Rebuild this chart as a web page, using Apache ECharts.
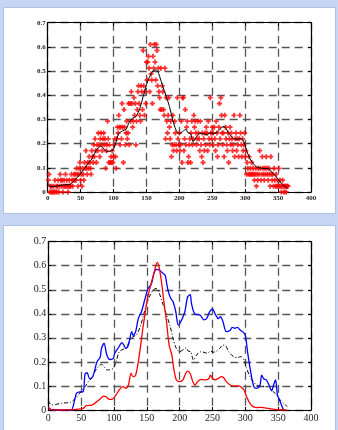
<!DOCTYPE html>
<html>
<head>
<meta charset="utf-8">
<script src="https://cdn.jsdelivr.net/npm/echarts@6/dist/echarts.min.js"></script>
<style>
  html, body { margin: 0; padding: 0; }
  body { width: 338px; height: 430px; background: #c6d5f1; position: relative; overflow: hidden; }
  .panel { position: absolute; background: #fff; border: 1px solid #aec2e6; box-sizing: border-box; }
  #chart { position: absolute; left: 0; top: 0; width: 338px; height: 430px; }
</style>
</head>
<body>
<div class="panel" style="left:3px;top:7px;width:333px;height:207px;"></div>
<div class="panel" style="left:3px;top:225px;width:333px;height:210px;"></div>
<div id="chart"></div>
<script>
// axis ticks
const xTicks = [0, 50, 100, 150, 200, 250, 300, 350, 400];
const yTicks = [0, 0.1, 0.2, 0.3, 0.4, 0.5, 0.6, 0.7];

// daily observations (day 1..365), top panel red crosses
const dailyObs = [
  .049,.073,0,.024,0,.024,0,0,.024,0,
  .049,0,.024,0,.024,.049,0,.024,.073,.049,
  .024,.049,0,.024,.049,.024,.073,.024,.049,.024,
  0,.024,.049,.024,.024,.073,.049,.024,.049,.073,
  .049,.073,.049,.098,.073,.024,.073,.098,.122,.049,
  .073,.024,.098,.073,.049,.122,.098,.171,.098,.073,
  .122,.098,.146,.122,.098,.073,.171,.146,.122,.195,
  .146,.22,.171,.122,.195,.171,.244,.195,.146,.22,
  .244,.195,.171,.22,.244,.195,.22,.098,.171,.195,
  .293,.22,.122,.195,.122,.146,.122,.171,.122,.146,
  .195,.22,.146,.098,.22,.268,.244,.317,.268,.195,
  .268,.22,.366,.268,.122,.341,.268,.195,.244,.293,
  .22,.244,.366,.195,.366,.293,.415,.366,.268,.293,
  .39,.317,.366,.195,.293,.341,.415,.439,.366,.317,
  .293,.439,.415,.341,.585,.439,.317,.415,.366,.537,
  .463,.537,.561,.512,.415,.61,.488,.463,.366,.561,
  .512,.61,.537,.463,.61,.585,.439,.512,.415,.39,
  .341,.512,.341,.439,.415,.341,.317,.512,.22,.39,
  .293,.244,.317,.39,.268,.22,.293,.146,.195,.317,
  .171,.195,.293,.244,.195,.171,.39,.22,.195,.244,
  .171,.195,.293,.122,.39,.39,.171,.22,.341,.195,
  .268,.293,.122,.146,.195,.22,.122,.244,.293,.195,
  .22,.317,.268,.293,.244,.195,.22,.293,.244,.22,
  .171,.293,.195,.146,.244,.122,.22,.171,.244,.195,
  .268,.244,.171,.293,.22,.195,.39,.244,.22,.268,
  .244,.195,.268,.22,.171,.293,.244,.146,.195,.268,
  .366,.22,.39,.317,.244,.195,.244,.146,.317,.268,
  .22,.195,.171,.244,.122,.22,.268,.195,.244,.22,
  .171,.195,.317,.146,.22,.244,.171,.22,.195,.146,
  .22,.317,.244,.195,.146,.22,.171,.195,.244,.146,
  .171,.073,.122,.098,.073,.146,.073,.098,.073,.122,
  .073,.098,.073,.049,.073,.098,.024,.073,.049,.098,
  .073,.171,.098,.049,.073,.146,.098,.073,.049,.098,
  .073,.146,.098,.073,.049,.098,.073,.024,.146,.073,
  .049,.073,.024,.098,.049,.024,.073,.024,.049,.024,
  .098,.024,.049,.024,0,.024,.049,.024,0,.024,
  .024,0,.024,.024,.024
];

// smoothed mean (black line, also dash-dot in bottom panel)
const meanDays = [0,5,13,20,28,34,41,48,56,61,66,71,76,81,86,90,95,99,103,108,114,119,124,129,134,140,145,150,155,160,164,167,170,175,180,185,190,195,200,205,210,213,217,221,226,231,237,242,247,251,256,261,266,270,275,282,288,293,298,302,307,312,317,322,330,335,340,345,353,360,364];
const meanVals = [.038,.021,.024,.028,.03,.032,.048,.07,.097,.118,.132,.16,.18,.19,.176,.166,.169,.173,.2,.242,.253,.259,.29,.305,.312,.346,.395,.443,.478,.5,.505,.5,.478,.436,.395,.353,.298,.256,.242,.25,.259,.245,.242,.208,.229,.242,.24,.236,.245,.24,.245,.256,.27,.267,.242,.222,.218,.222,.208,.173,.139,.118,.104,.1,.097,.097,.083,.07,.042,.024,.014];

// upper curve (blue)
const upperDays = [0,4,10,20,30,35,43,48,53,56,59,63,68,74,79,81,85,89,94,99,101,107,112,115,118,122,127,129,133,137,142,147,152,157,161,165,170,174,178,180,183,186,190,194,198,203,208,212,216,218,223,231,237,241,246,250,254,259,262,266,271,277,280,284,288,292,297,300,304,309,313,317,322,325,328,332,336,340,343,346,349,353,358];
const upperVals = [.012,.002,0,0,0,0,.07,.075,.076,.15,.155,.13,.14,.2,.22,.256,.277,.23,.21,.215,.235,.26,.28,.27,.256,.27,.326,.31,.326,.38,.41,.46,.505,.525,.57,.585,.58,.57,.56,.53,.49,.467,.45,.41,.353,.374,.41,.47,.48,.443,.4,.395,.375,.38,.41,.42,.4,.38,.388,.367,.326,.332,.344,.34,.344,.333,.323,.31,.23,.145,.097,.09,.1,.145,.13,.125,.104,.08,.104,.125,.062,.035,0];

// lower curve (red)
const lowerDays = [0,4,10,20,30,43,53,58,66,74,79,84,88,93,98,103,109,114,118,122,126,129,133,137,140,144,147,151,156,160,164,166,169,173,176,180,184,188,191,195,200,205,209,212,216,220,223,228,233,238,244,247,250,254,259,264,267,271,277,282,288,293,298,302,307,312,318,325,332,342,353,363];
const lowerVals = [.012,.002,0,0,0,.003,.007,.018,.02,.035,.046,.058,.055,.044,.046,.062,.087,.097,.09,.104,.152,.139,.145,.2,.256,.34,.395,.464,.52,.56,.603,.614,.59,.52,.45,.367,.27,.23,.173,.125,.118,.125,.152,.162,.152,.118,.104,.12,.127,.125,.129,.145,.132,.125,.132,.139,.134,.118,.104,.1,.1,.097,.083,.055,.028,.014,.01,.011,.008,.004,.001,0];

const pairs = (xs, ys) => xs.map((x, i) => [x, ys[i]]);
const obsPoints = dailyObs.map((v, i) => [i + 1, v]);

const plus = 'path://M1.6,0H3.4V1.6H5V3.4H3.4V5H1.6V3.4H0V1.6H1.6Z';
const serif = "'Liberation Serif', 'DejaVu Serif', serif";

function axes(gridIndex, bold, fs) {
  const lab = { color: '#222', fontFamily: serif, fontSize: fs, fontWeight: bold ? 'bold' : 'normal' };
  const split = { show: true, lineStyle: { color: '#555', width: 1.3, type: [8, 5] } };
  const line = { show: true, onZero: false, lineStyle: { color: '#000', width: 1.2 } };
  const tick = { show: true, inside: true, length: 3, lineStyle: { color: '#000' } };
  return {
    x: [
      { type: 'value', gridIndex, min: 0, max: 400, interval: 50, position: 'bottom',
        axisLine: line, axisTick: tick, splitLine: split,
        axisLabel: Object.assign({ margin: 3, formatter: v => xTicks.includes(v) ? String(v) : '' }, lab) },
      { type: 'value', gridIndex, min: 0, max: 400, interval: 50, position: 'top',
        axisLine: line, axisTick: tick, splitLine: { show: false }, axisLabel: { show: false } }
    ],
    y: [
      { type: 'value', gridIndex, min: 0, max: 0.7, interval: 0.1, position: 'left',
        axisLine: line, axisTick: tick, splitLine: split,
        axisLabel: Object.assign({ margin: 2, formatter: v => {
          const t = yTicks.find(k => Math.abs(k - v) < 1e-6);
          return t === undefined ? '' : (t === 0 ? '0' : t.toFixed(1));
        } }, lab) },
      { type: 'value', gridIndex, min: 0, max: 0.7, interval: 0.1, position: 'right',
        axisLine: line, axisTick: tick, splitLine: { show: false }, axisLabel: { show: false } }
    ]
  };
}

const a1 = axes(0, true, 7);
const a2 = axes(1, false, 10);

const chart = echarts.init(document.getElementById('chart'), null, { renderer: 'canvas' });
chart.setOption({
  animation: false,
  backgroundColor: 'transparent',
  grid: [
    { left: 47.7, top: 22.7, width: 263.3, height: 169.3 },
    { left: 48.3, top: 241.7, width: 262.7, height: 168.3 }
  ],
  xAxis: a1.x.concat(a2.x),
  yAxis: a1.y.concat(a2.y),
  series: [
    { type: 'scatter', xAxisIndex: 0, yAxisIndex: 0, data: obsPoints,
      symbol: plus, symbolSize: 5, itemStyle: { color: '#ff0000' } },
    { type: 'line', xAxisIndex: 0, yAxisIndex: 0, data: pairs(meanDays, meanVals),
      smooth: 0.3, showSymbol: false, lineStyle: { color: '#000', width: 1 } },
    { type: 'line', xAxisIndex: 2, yAxisIndex: 2, data: pairs(meanDays, meanVals),
      smooth: 0.3, showSymbol: false, lineStyle: { color: '#000', width: 1, type: [4, 2, 1, 2] } },
    { type: 'line', xAxisIndex: 2, yAxisIndex: 2, data: pairs(upperDays, upperVals),
      smooth: 0.3, showSymbol: false, lineStyle: { color: '#0000ff', width: 1.3 } },
    { type: 'line', xAxisIndex: 2, yAxisIndex: 2, data: pairs(lowerDays, lowerVals),
      smooth: 0.3, showSymbol: false, lineStyle: { color: '#ff0000', width: 1.3 } }
  ]
});
</script>
</body>
</html>
